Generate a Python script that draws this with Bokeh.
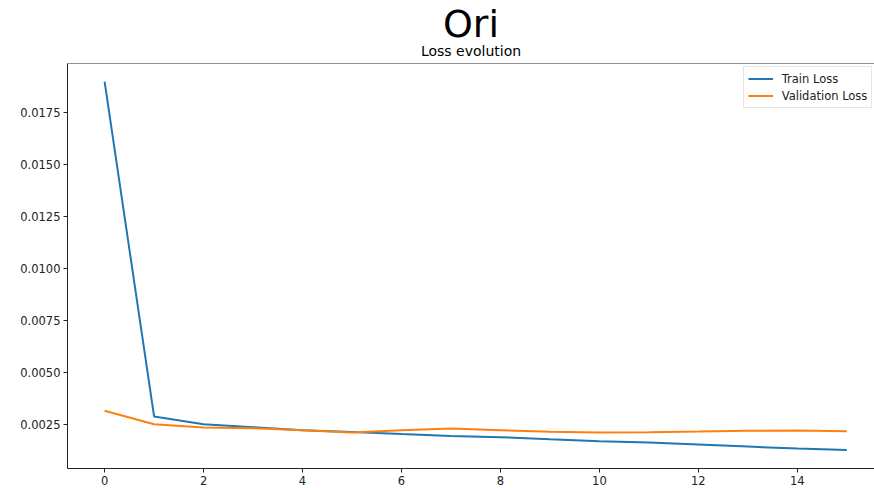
from bokeh.plotting import figure
from bokeh.models import Range1d, FixedTicker, PrintfTickFormatter, Span, Legend, LegendItem, Title
from bokeh.embed import file_html
from bokeh.resources import INLINE

epochs = list(range(16))
train_loss = [0.01899, 0.00287, 0.00249, 0.00235, 0.00221, 0.00212, 0.00202, 0.00193,
              0.00187, 0.00177, 0.00168, 0.00161, 0.00152, 0.00142, 0.00132, 0.00125]
val_loss = [0.00314, 0.00249, 0.00234, 0.00230, 0.00221, 0.00210, 0.00221, 0.00229,
            0.00221, 0.00213, 0.00210, 0.00211, 0.00214, 0.00218, 0.00219, 0.00216]
x_ticks = [0, 2, 4, 6, 8, 10, 12, 14]
y_ticks = [0.0025, 0.0050, 0.0075, 0.0100, 0.0125, 0.0150, 0.0175]
suptitle = "Ori"
title = "Loss evolution"
series_names = ["Train Loss", "Validation Loss"]

FONT = "DejaVu Sans"

p = figure(width=874, height=488, output_backend="svg", toolbar_location=None,
           x_range=Range1d(-0.75, 15.56), y_range=Range1d(0.000363, 0.01986),
           min_border_left=67, min_border_right=0, min_border_top=63, min_border_bottom=20)
p.xgrid.visible = False
p.ygrid.visible = False
p.outline_line_color = None
p.background_fill_color = "white"
p.border_fill_color = "white"

p.title.text = suptitle
p.title.text_font = FONT
p.title.text_font_size = "38px"
p.title.text_font_style = "normal"
p.title.text_color = "black"
p.title.align = "center"
p.title.offset = -1
p.title.standoff = -21

p.add_layout(Title(text=title, text_font=FONT, text_font_size="14px",
                   text_font_style="normal", text_color="black", align="center",
                   offset=4, standoff=10), "above")

r1 = p.line(epochs, train_loss, line_color="#1f77b4", line_width=2)
r2 = p.line(epochs, val_loss, line_color="#ff7f0e", line_width=2)

for ax in (p.xaxis[0], p.yaxis[0]):
    ax.axis_line_color = "#222222"
    ax.axis_line_width = 1
    ax.major_tick_line_color = "#222222"
    ax.major_tick_in = 0
    ax.major_tick_out = 4
    ax.minor_tick_line_color = None
    ax.major_label_text_font = FONT
    ax.major_label_text_font_size = "11.5px"
    ax.major_label_text_color = "#222222"
    ax.major_label_standoff = 3

p.xaxis[0].ticker = FixedTicker(ticks=x_ticks)
p.yaxis[0].ticker = FixedTicker(ticks=y_ticks)
p.yaxis[0].formatter = PrintfTickFormatter(format="%.4f")

p.add_layout(Span(location=0.01986, dimension="width", line_color="#222222", line_width=1))

legend = Legend(items=[LegendItem(label=series_names[0], renderers=[r1]),
                       LegendItem(label=series_names[1], renderers=[r2])],
                location=(675.7, 360))
legend.label_text_font = FONT
legend.label_text_font_size = "11.5px"
legend.label_text_color = "#222222"
legend.border_line_color = "#cccccc"
legend.border_line_width = 1
legend.padding = 4
legend.spacing = 2
legend.margin = 0
legend.glyph_width = 25
legend.glyph_height = 15
legend.label_height = 15
legend.label_standoff = 9
p.add_layout(legend)

open("out.html", "w").write(file_html(p, INLINE))
